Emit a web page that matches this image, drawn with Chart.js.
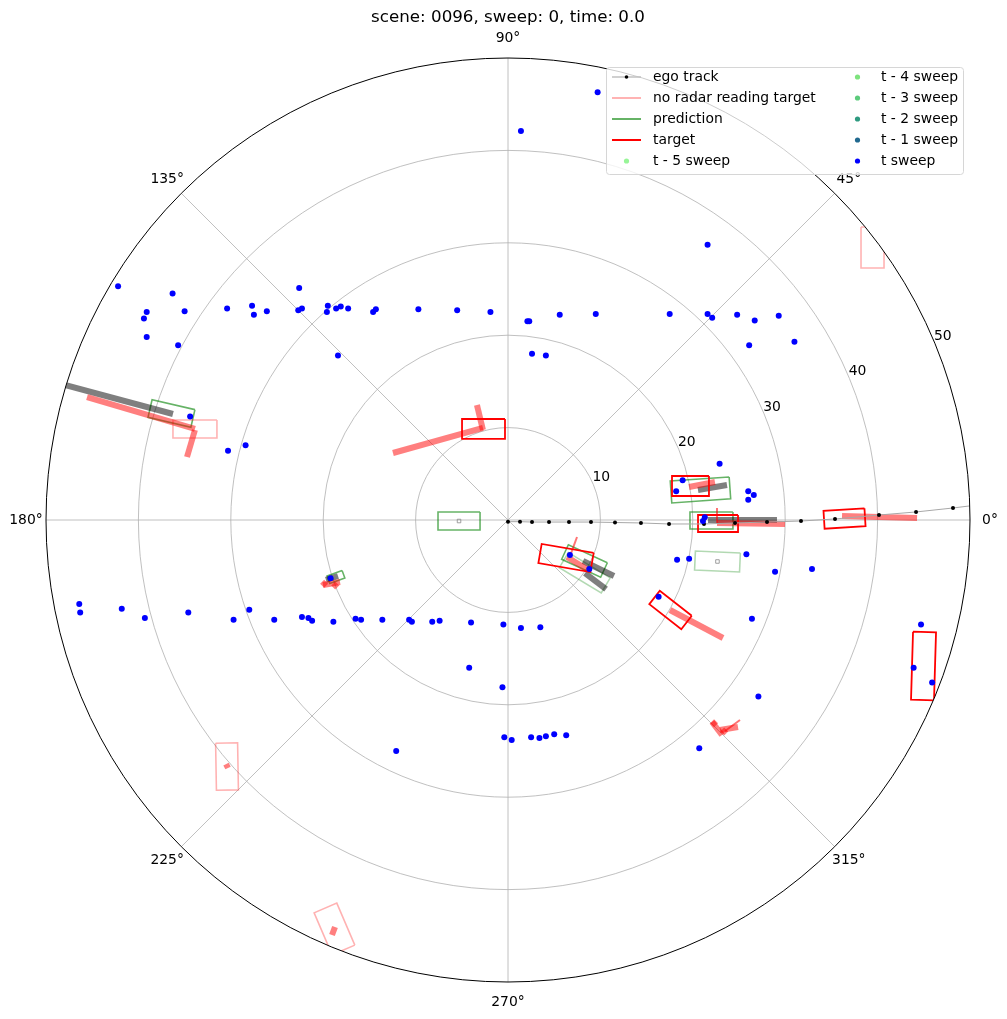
<!DOCTYPE html>
<html>
<head>
<meta charset="utf-8">
<script src="https://cdn.jsdelivr.net/npm/chart.js"></script>
<style>
  body { margin: 0; background: #fff; }
  #wrap { width: 1007px; height: 1019px; }
</style>
</head>
<body>
<div id="wrap"><canvas id="sceneChart" width="1007" height="1019"></canvas></div>
<script>
const TITLE = 'scene: 0096, sweep: 0, time: 0.0';
const R_MAX = 50;
const RING_TICKS = [10, 20, 30, 40, 50];
const ANGLE_TICKS = [0, 45, 90, 135, 180, 225, 270, 315];

// ego track (metres, ego frame)
const egoX = [0, 1.3, 2.6, 4.44, 6.6, 8.98, 11.58, 14.39, 17.43, 21.21, 24.57, 28.03, 31.71, 35.39, 40.15, 44.16, 48.16, 52.2];
const egoY = [-0.18, -0.18, -0.22, -0.22, -0.22, -0.22, -0.27, -0.32, -0.43, -0.43, -0.32, -0.22, -0.11, 0.11, 0.54, 0.87, 1.3, 1.8];

// radar returns, current sweep
const sweepX = [9.7, 1.4, 21.6, -42.2, -36.3, -39.1, -39.4, -35.0, -39.1, -35.7, -30.4, -27.7, -27.5, -26.1, -22.6, -22.7, -22.3,
  -19.5, -19.6, -18.6, -18.1, -17.3, -14.6, -14.3, -9.7, -18.4, -5.5, -1.9, 2.1, 2.3, 5.6, 9.5, 17.5, 21.6, 22.1, 24.8, 26.7,
  29.3, 26.1, 31.0, 2.6, 4.1, -34.4, -30.3, -28.4, 18.9, 18.2, 22.9, 26.0, 26.6, 26.0, 21.3, 21.1, 18.3, 19.6, 25.8, 28.9,
  32.9, 6.7, 8.8, 16.3, 3.5, 26.4, 27.1, 20.7, 44.7, 43.9, 45.9, -46.4, -46.3, -41.8, -39.3, -34.6, -29.7, -28.0, -25.3,
  -22.3, -21.6, -21.2, -18.9, -16.5, -15.9, -13.6, -10.7, -10.4, -8.2, -7.4, -4.0, -0.5, 1.4, -4.2, -0.6, -0.4, 0.4, 2.5,
  3.4, 4.1, 5.0, 6.3, -12.1, -19.2];
const sweepY = [46.3, 42.1, 29.8, 25.3, 24.5, 22.5, 21.8, 22.6, 19.8, 18.9, 22.9, 23.2, 22.2, 22.6, 25.1, 22.7, 22.9,
  23.2, 22.5, 22.9, 23.1, 22.9, 22.5, 22.8, 22.8, 17.8, 22.7, 22.5, 21.5, 21.5, 22.2, 22.3, 22.3, 22.3, 21.9, 22.2, 21.6,
  22.1, 18.9, 19.3, 18.0, 17.8, 11.2, 7.5, 8.1, 4.3, 3.1, 6.1, 3.1, 2.7, 2.2, 0.3, -0.1, -4.3, -4.2, -3.7, -5.6,
  -5.3, -3.8, -5.3, -8.3, -11.6, -10.7, -19.1, -24.7, -11.3, -16.0, -17.6, -9.1, -10.0, -9.6, -10.6, -10.0, -10.8, -9.7, -10.8,
  -10.5, -10.6, -10.9, -11.0, -10.7, -10.8, -10.8, -10.8, -11.0, -11.0, -10.9, -11.1, -11.3, -11.7, -16.0, -18.1, -23.5, -23.8, -23.5,
  -23.6, -23.4, -23.2, -23.3, -25.0, -6.3];

// boxes: [centre x, centre y, length, width, yaw in degrees]
const targetBoxes = [
  [-2.65, 9.85, 4.65, 2.16, 0],
  [6.28, -4.11, 5.71, 2.10, -9.8],
  [19.75, 3.68, 4.0, 2.16, 0],
  [22.73, -0.38, 4.33, 1.84, 0],
  [36.42, 0.16, 4.44, 1.95, 3.5],
  [17.59, -9.74, 4.39, 1.84, -38],
  [44.97, -15.80, 7.36, 2.49, 88.3]
];
const noRadarBoxes = [
  [-33.88, 9.85, 4.76, 1.95, 0],
  [39.45, 29.49, 4.44, 2.49, 90],
  [-30.41, -26.68, 5.09, 2.38, 91],
  [-18.78, -44.26, 4.95, 2.67, -66.8]
];
const predictionBoxes = [
  [-5.30, -0.11, 4.55, 1.95, 0],
  [-36.42, 11.53, 4.76, 1.95, -13],
  [20.83, 3.25, 6.39, 2.38, 4],
  [22.02, -0.05, 4.65, 1.84, 0],
  [8.28, -4.44, 4.65, 1.73, -24.8],
  [-18.62, -6.17, 1.73, 0.87, 20]
];
const predictionFadedBoxes = [
  [22.67, -4.49, 4.87, 2.06, -2.5],
  [8.31, -5.71, 5.29, 1.89, -31]
];
const predictionCentres = [[-5.30, -0.11], [22.67, -4.49]];

// motion bars: [x0, y0, x1, y1]
const targetMotion = [
  [-12.45, 7.25, -2.71, 9.96],
  [-3.36, 12.45, -2.71, 9.74],
  [-45.56, 13.31, -33.88, 9.85],
  [-33.88, 9.74, -34.74, 6.82],
  [19.59, 3.57, 22.40, 4.11],
  [22.62, -0.32, 29.98, -0.43],
  [36.15, 0.43, 44.27, 0.22],
  [6.39, -4.00, 8.66, -5.41],
  [17.53, -9.74, 23.27, -12.77],
  [22.08, -21.86, 23.16, -23.27],
  [22.94, -22.73, 24.89, -22.40],
  [-20.02, -7.03, -18.18, -6.71],
  [-30.52, -26.41, -30.30, -26.84],
  [-18.72, -44.05, -19.05, -44.91]
];
const predictionMotion = [
  [-52.0, 15.7, -36.26, 11.47],
  [20.56, 3.25, 23.70, 3.79],
  [21.65, 0, 29.11, 0],
  [8.12, -4.44, 11.47, -6.06],
  [8.33, -5.74, 10.61, -7.47],
  [-19.70, -6.49, -18.40, -6.06]
];
const headingTicks = [
  [22.62, 1.30, 22.62, -0.32],
  [7.47, -1.84, 6.71, -3.90],
  [25.11, -21.65, 23.49, -22.84]
];
// small objects drawn as filled squares: [x, y]
const smallTargets = [[22.3, -22.0], [23.4, -22.9], [-19.9, -6.9], [-18.7, -7.1]];

const legendLeft = [
  { label: 'ego track', kind: 'ego' },
  { label: 'no radar reading target', kind: 'line', color: '#ffb3b3' },
  { label: 'prediction', kind: 'line', color: '#66b366' },
  { label: 'target', kind: 'line', color: '#ff0000' },
  { label: 't - 5 sweep', kind: 'dot', color: '#98f598' }
];
const legendRight = [
  { label: 't - 4 sweep', kind: 'dot', color: '#7ee37e' },
  { label: 't - 3 sweep', kind: 'dot', color: '#5ccb7c' },
  { label: 't - 2 sweep', kind: 'dot', color: '#2e9a80' },
  { label: 't - 1 sweep', kind: 'dot', color: '#21698f' },
  { label: 't sweep', kind: 'dot', color: '#0000ff' }
];

const FONT = '"DejaVu Sans", "Liberation Sans", sans-serif';

function boxCorners(b) {
  const [cx, cy, l, w, yaw] = b;
  const a = yaw * Math.PI / 180, c = Math.cos(a), s = Math.sin(a);
  const pts = [[l / 2, w / 2], [l / 2, -w / 2], [-l / 2, -w / 2], [-l / 2, w / 2], [l / 2, w / 2]];
  return pts.map(([u, v]) => ({ x: cx + u * c - v * s, y: cy + u * s + v * c }));
}

function pathSet(label, pts, color, width, cap) {
  return {
    label, data: pts, showLine: true, borderColor: color, borderWidth: width,
    borderCapStyle: cap || 'butt', borderJoinStyle: 'miter', pointRadius: 0, fill: false, tension: 0
  };
}

const layers = [];
predictionFadedBoxes.forEach(b => layers.push(pathSet('prediction', boxCorners(b), 'rgba(0,128,0,0.3)', 1.6)));
predictionBoxes.forEach(b => layers.push(pathSet('prediction', boxCorners(b), 'rgba(0,128,0,0.6)', 1.6)));
noRadarBoxes.forEach(b => layers.push(pathSet('no radar reading target', boxCorners(b), 'rgba(255,0,0,0.3)', 1.6)));
predictionMotion.forEach(m => layers.push(pathSet('prediction motion', [{ x: m[0], y: m[1] }, { x: m[2], y: m[3] }], 'rgba(0,0,0,0.5)', 6)));
targetMotion.forEach(m => layers.push(pathSet('target motion', [{ x: m[0], y: m[1] }, { x: m[2], y: m[3] }], 'rgba(255,0,0,0.5)', 6)));
headingTicks.forEach(m => layers.push(pathSet('heading', [{ x: m[0], y: m[1] }, { x: m[2], y: m[3] }], 'rgba(255,0,0,0.55)', 2)));
layers.push({
  label: 'small target', data: smallTargets.map(p => ({ x: p[0], y: p[1] })),
  pointStyle: 'rectRot', pointRadius: 4, backgroundColor: 'rgba(255,0,0,0.5)', borderWidth: 0
});
targetBoxes.forEach(b => layers.push(pathSet('target', boxCorners(b), '#ff0000', 1.8)));
layers.push({
  label: 'ego track', data: egoX.map((x, i) => ({ x, y: egoY[i] })), showLine: true,
  borderColor: '#a8a8a8', borderWidth: 1, pointRadius: 2, pointBackgroundColor: '#000', pointBorderWidth: 0, tension: 0
});
layers.push({
  label: 'prediction centre', data: predictionCentres.map(p => ({ x: p[0], y: p[1] })),
  pointStyle: 'rect', pointRadius: 2.5, backgroundColor: 'rgba(0,0,0,0)', borderColor: '#888', borderWidth: 0.8
});
layers.push({
  label: 't sweep', data: sweepX.map((x, i) => ({ x, y: sweepY[i] })),
  pointRadius: 3, backgroundColor: '#0000ff', borderWidth: 0
});
layers.forEach((d, i) => { d.order = layers.length - i; });

function polarPoint(chart, r, deg) {
  const xs = chart.scales.x, ys = chart.scales.y;
  const a = deg * Math.PI / 180;
  return [xs.getPixelForValue(r * Math.cos(a)), ys.getPixelForValue(r * Math.sin(a))];
}

const polarFrame = {
  id: 'polarFrame',
  beforeDatasetsDraw(chart) {
    const ctx = chart.ctx;
    const [cx, cy] = polarPoint(chart, 0, 0);
    const R = polarPoint(chart, R_MAX, 0)[0] - cx;
    ctx.save();
    ctx.strokeStyle = '#b0b0b0';
    ctx.lineWidth = 0.8;
    RING_TICKS.slice(0, -1).forEach(r => {
      ctx.beginPath();
      ctx.arc(cx, cy, R * r / R_MAX, 0, Math.PI * 2);
      ctx.stroke();
    });
    ANGLE_TICKS.forEach(deg => {
      const [px, py] = polarPoint(chart, R_MAX, deg);
      ctx.beginPath();
      ctx.moveTo(cx, cy);
      ctx.lineTo(px, py);
      ctx.stroke();
    });
    ctx.restore();
    ctx.save();
    ctx.beginPath();
    ctx.arc(cx, cy, R, 0, Math.PI * 2);
    ctx.clip();
  },
  afterDatasetsDraw(chart) {
    const ctx = chart.ctx;
    ctx.restore();
    const area = chart.chartArea;
    const [cx, cy] = polarPoint(chart, 0, 0);
    const R = polarPoint(chart, R_MAX, 0)[0] - cx;
    ctx.save();
    ctx.strokeStyle = '#000';
    ctx.lineWidth = 1;
    ctx.beginPath();
    ctx.arc(cx, cy, R, 0, Math.PI * 2);
    ctx.stroke();

    ctx.fillStyle = '#000';
    ctx.font = '13.9px ' + FONT;
    ctx.textAlign = 'center';
    ctx.textBaseline = 'middle';
    ANGLE_TICKS.forEach(deg => {
      const a = deg * Math.PI / 180;
      ctx.fillText(deg + '°', cx + (R + 20) * Math.cos(a), cy - (R + 20) * Math.sin(a));
    });
    RING_TICKS.forEach(r => {
      const [px, py] = polarPoint(chart, r, 22.5);
      ctx.fillText(String(r), px + 8, py - 7);
    });

    ctx.font = '16.7px ' + FONT;
    ctx.fillText(TITLE, cx, area.top - 40);

    // legend, two columns in the upper right
    const lw = 357, lh = 107;
    const lx = area.right - 7 - lw, ly = area.top + 9;
    ctx.beginPath();
    ctx.roundRect(lx + 0.5, ly + 0.5, lw, lh, 3);
    ctx.fillStyle = 'rgba(255,255,255,0.8)';
    ctx.fill();
    ctx.strokeStyle = '#d6d6d6';
    ctx.lineWidth = 1;
    ctx.stroke();
    ctx.font = '13.9px ' + FONT;
    ctx.textAlign = 'left';
    const drawEntry = (e, hx, tx, y) => {
      if (e.kind === 'ego') {
        ctx.strokeStyle = '#c0c0c0';
        ctx.lineWidth = 1.5;
        ctx.beginPath(); ctx.moveTo(hx, y); ctx.lineTo(hx + 29, y); ctx.stroke();
        ctx.fillStyle = '#000';
        ctx.beginPath(); ctx.arc(hx + 14.5, y, 1.8, 0, Math.PI * 2); ctx.fill();
      } else if (e.kind === 'line') {
        ctx.strokeStyle = e.color;
        ctx.lineWidth = 2;
        ctx.beginPath(); ctx.moveTo(hx, y); ctx.lineTo(hx + 29, y); ctx.stroke();
      } else {
        ctx.fillStyle = e.color;
        ctx.beginPath(); ctx.arc(hx + 14.5, y, 2.6, 0, Math.PI * 2); ctx.fill();
      }
      ctx.fillStyle = '#000';
      ctx.fillText(e.label, tx, y);
    };
    legendLeft.forEach((e, i) => drawEntry(e, lx + 6, lx + 47, ly + 10 + i * 21));
    legendRight.forEach((e, i) => drawEntry(e, lx + 237, lx + 275, ly + 10 + i * 21));
    ctx.restore();
  }
};

new Chart(document.getElementById('sceneChart'), {
  type: 'scatter',
  data: { datasets: layers },
  options: {
    responsive: false,
    animation: false,
    devicePixelRatio: 1,
    layout: { padding: { left: 46, right: 37, top: 58, bottom: 37 } },
    scales: {
      x: { type: 'linear', min: -R_MAX, max: R_MAX, display: false },
      y: { type: 'linear', min: -R_MAX, max: R_MAX, display: false }
    },
    plugins: { legend: { display: false }, tooltip: { enabled: false }, title: { display: false } }
  },
  plugins: [polarFrame]
});
</script>
</body>
</html>
